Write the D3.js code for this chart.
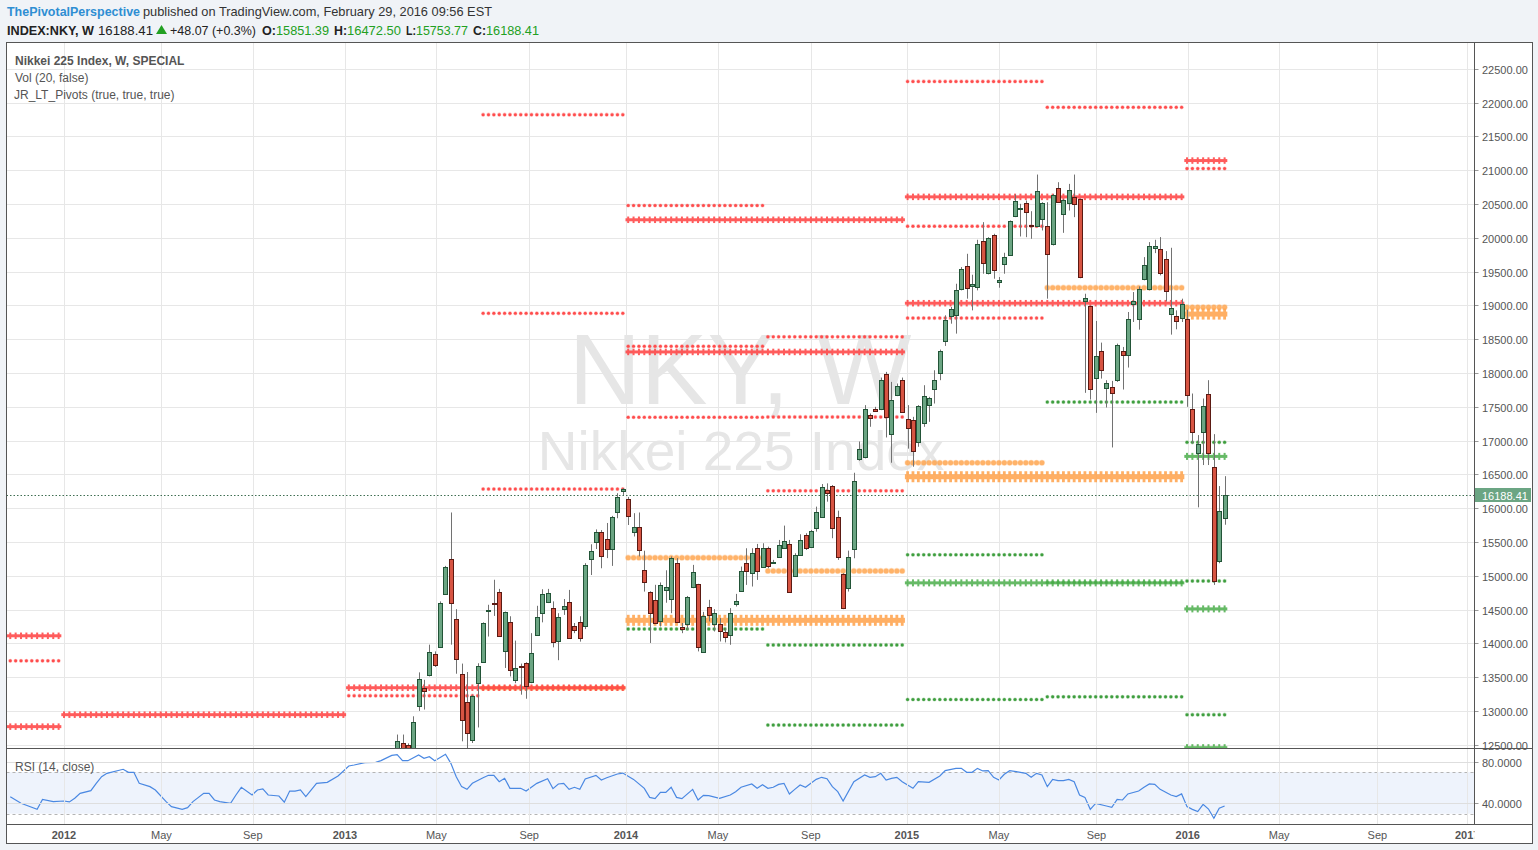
<!DOCTYPE html>
<html><head><meta charset="utf-8"><title>NKY weekly</title>
<script src="https://d3js.org/d3.v7.min.js"></script>
<style>html,body{margin:0;padding:0;background:#f0f3f7;overflow:hidden}svg{display:block}</style>
</head><body><svg id="chart" width="1538" height="850"></svg>
<script>
// ---------------- DATA ----------------
const priceTicks = [12500,13000,13500,14000,14500,15000,15500,16000,16500,17000,17500,18000,18500,19000,19500,20000,20500,21000,21500,22000,22500];
const rsiTicks = [40, 80];
const rsiBands = [30, 70];
const timeTickDates = ["2012-01-02","2012-05-08","2012-09-04","2013-01-02","2013-05-01","2013-08-30","2014-01-03","2014-05-03","2014-09-01","2015-01-04","2015-05-04","2015-09-08","2016-01-05","2016-05-03","2016-09-08","2017-01-03"];
const timeTickLabels = ["2012","May","Sep","2013","May","Sep","2014","May","Sep","2015","May","Sep","2016","May","Sep","2017"];

// weekly candles, first bar = week of 2013-03-11 (one value per week)
const firstCandleWeek = "2013-03-11";
const opens = [
12300,12530,12490,12380,13070,13340,13525,13840,13940,14735,
15245,14355,13545,13130,12565,13410,13730,14475,14590,14755,
13880,14315,13450,13660,13705,13425,14130,14445,14610,14520,
14040,14505,14610,14260,14315,14260,15245,15495,15640,15540,
15390,15935,16250,16130,15640,15715,15080,14765,14645,14330,
14790,14655,15185,14240,14283,14830,14874,13870,14534,14283,
14283,14165,14126,14579,14776,15184,15037,15406,15135,15416,
15190,15283,15416,15465,15002,15302,15603,15430,15701,15874,
16262,16326,15864,15022,14815,15391,16720,16750,17375,17473,
17459,17990,17089,17670,17902,17311,17302,16981,17266,17518,
17764,18005,18472,18842,18861,19236,19580,19285,19270,19954,
19482,20043,19339,19615,19747,20314,20427,20515,20191,20166,
20279,20176,19910,20737,20353,20510,20599,20575,19058,18994,
17931,18325,17783,17798,17901,18320,18271,19024,18803,19383,
19245,19850,19836,19689,18876,18837,18817,18803,17459,16809,
17129,17685,16602,15223,15851.39];
const highs = [
12650,12650,12520,12920,13570,13460,13980,13880,14620,15145,
15935,14505,13700,13575,13240,13705,14310,14570,14940,14805,
14470,14400,14040,13700,13720,14150,14555,14800,14805,14620,
14445,14655,14790,14300,14400,15185,15465,15685,15675,15780,
15885,16220,16295,16165,15925,15935,15370,14770,14865,14900,
15080,15285,15260,14300,14700,15160,14880,14465,14643,14505,
14372,14224,14520,14731,15135,15406,15406,15470,15480,15430,
15234,15529,15741,15529,15332,15613,15628,15677,16022,16356,
16366,16341,15962,15037,15371,16523,16985,17523,17400,17498,
17931,18015,17867,17843,17931,17523,17350,17523,17818,17646,
18039,18345,18852,18975,19319,19565,19762,19452,19969,20230,
20008,20058,19418,19777,20255,20639,20501,20550,20392,20934,
20525,20525,20648,20821,20575,20796,20934,20580,19171,18994,
18768,18448,17892,17882,18433,18384,18901,19196,19280,19713,
19935,19969,20009,19802,19851,18925,19098,18935,17695,17080,
17621,17892,17094,16326,16472.50];
const lows = [
12250,12290,12250,12000,13000,13020,13510,13650,13930,14715,
13980,13550,12550,12415,12525,12755,13715,14100,14405,14100,
13635,13510,13410,13240,13180,13410,14125,14310,14595,13940,
13750,14420,14075,14150,14025,14210,15010,15395,15110,15260,
15145,15850,16195,15750,15580,15285,14765,14005,14290,14250,
14600,14445,14300,14150,14200,14815,13880,13865,14323,14175,
14027,14013,13978,14544,14766,14864,14840,14938,15135,15110,
15184,15273,15406,14751,14987,15293,15381,15420,15652,15874,
16095,15554,15234,14505,14766,15258,16700,16735,17203,17424,
17449,17045,16671,17656,17410,16880,16612,16907,17202,17276,
17547,17892,18399,18728,18581,19221,19098,18925,19221,19467,
19457,19393,19260,19467,19738,20304,20018,20008,19984,20156,
20107,19098,19885,20515,20072,20402,20304,19400,17705,17606,
17409,17916,17488,16897,17867,17754,18079,18753,18640,19369,
19221,19772,19443,19058,18566,18645,18753,17498,16956,16011,
16637,16637,14864,15184,15753.77];
const closes = [
12560,12340,12400,12830,13470,13300,13870,13675,14595,15125,
14595,13765,12865,12675,13215,13660,14300,14495,14575,14115,
14460,13600,13635,13645,13375,13855,14385,14725,14740,14015,
14385,14555,14080,14190,14075,15155,15365,15640,15295,15390,
15865,16160,16280,15890,15715,15375,14905,14445,14300,14860,
14830,15260,14315,14210,14692,15051,13944,14406,14416,14446,
14175,14091,14446,14628,15071,15076,15332,15076,15416,15150,
15210,15450,15514,14766,15302,15524,15406,15662,15938,16307,
16218,15701,15283,14520,15273,16395,16868,17473,17340,17439,
17902,17350,17606,17803,17424,17178,16848,17508,17665,17636,
17902,18320,18788,18950,19231,19540,19260,19320,19900,19629,
19998,19516,19368,19713,20245,20540,20437,20378,20166,20688,
20515,19762,20634,20525,20560,20707,20500,19418,19112,17769,
18246,18049,17857,17709,18418,18271,18803,19068,19245,19590,
19870,19870,19477,19211,18965,18768,19014,17680,17129,16946,
17508,16809,14928,15957,16188.41];
const lastPrice = 16188.41;

// RSI(14): [week number from 2012-01-02, value]
const rsiPoints = [[-10,46.4],[-8,40.0],[-5,34.2],[-4,43.8],[-2,41.6],[0,42.2],[1,41.3],[2,44.8],[3,49.6],[5,52.2],[6,59.2],[7,65.6],[8,68.8],[11,72.7],[12,69.8],[13,69.8],[14,59.2],[16,56],[17,52.8],[19,41.6],[20,36.8],[22,34.2],[23,35.8],[24,41.6],[26,49.6],[27,49.6],[28,43.2],[29,41.6],[31,40.0],[32,48],[33,55.4],[35,48],[36,52.8],[37,53.8],[38,48],[40,47],[41,41],[42,51.8],[43,51.8],[44,52.8],[45,46.4],[47,59.2],[49,60.2],[51,66.3],[53,75.9],[54,76.8],[56,79.1],[58,79.4],[59,81],[61,86.1],[62,86.8],[63,81],[64,81],[66,86.4],[67,83.2],[68,84.8],[69,81],[71,87.1],[72,78.4],[73,65.6],[74,56],[75,53.4],[76,59.2],[78,64.6],[79,66.9],[80,66.9],[81,60.8],[82,64],[83,54.4],[85,54.4],[86,51.8],[88,59.2],[90,63.7],[91,54.1],[92,58.6],[93,59.2],[94,53.4],[95,55.4],[96,53.4],[97,63.4],[99,66.9],[100,62.4],[101,64.6],[103,68.2],[104,69.1],[106,63],[108,54.4],[109,45.7],[110,44.5],[111,50.5],[112,50.5],[113,55.4],[114,45.7],[115,44.5],[117,53.4],[118,43.2],[119,47.7],[120,47.3],[122,44.8],[124,48],[125,51.2],[126,55.4],[128,58.6],[129,54.4],[130,57.8],[131,54.4],[132,55.4],[133,58.2],[134,59.2],[135,49],[136,53.4],[137,57.6],[138,55.4],[139,59.2],[140,63],[141,65],[142,63.7],[143,56],[144,51.2],[145,42.2],[147,60.8],[149,67.2],[150,65],[151,65.6],[152,68.8],[153,62.4],[154,64],[155,65],[156,60.8],[158,54.4],[159,60.8],[161,60.2],[163,66.3],[164,71.4],[166,73.6],[167,73.6],[168,69.8],[169,69.8],[170,73.6],[171,71.1],[172,71.4],[173,65],[174,62.4],[175,67.9],[176,71.4],[178,69.8],[179,68.8],[180,65],[181,68.8],[182,67.2],[183,56],[184,63],[185,61.8],[186,61.8],[187,63],[188,60.8],[189,48],[190,45.7],[191,34.2],[192,40],[194,37.4],[195,36.1],[196,43.8],[197,43.2],[198,49],[200,51.8],[201,55.4],[202,58.6],[203,58.2],[204,53.4],[206,48],[207,46.4],[208,49],[209,36.8],[210,34.2],[211,32],[212,39],[213,34.5],[214,25.6],[215,35.2],[216,37.4]];

// JR_LT_Pivots levels: [period, level]
const yearlyResist = [["2011",14111],["2011",12767],["2012",12944],["2013",13343],["2014",20265],["2014",18310],["2015",20604],["2015",19031],["2016",21141]];
const yearlyPivot  = [["2014",14340],["2015",16464],["2016",18870]];
const yearlySupport= [["2015",14894],["2016",16765],["2016",14509],["2016",12456]];
const halfResist = [["2011H2",13741],["2013H1",13225],["2013H2",21820],["2013H2",18881],["2013H2",16282],["2014H1",20476],["2014H1",18394],["2014H1",17344],["2014H2",18534],["2014H2",17349],["2014H2",16255],["2015H1",22312],["2015H1",20171],["2015H1",18811],["2015H2",21928],["2016H1",21023]];
const halfPivot  = [["2013H2",13339],["2014H1",15266],["2014H2",15070],["2015H1",16670],["2015H2",19260],["2016H1",18973]];
const halfSupport= [["2014H1",14212],["2014H2",13976],["2014H2",12791],["2015H1",15310],["2015H1",13169],["2015H2",17568],["2015H2",14900],["2015H2",13208],["2016H1",16973],["2016H1",14922],["2016H1",12944]];

// ---------------- CHART ----------------
const FONT = "'Liberation Sans', Arial, sans-serif";
const svg = d3.select("#chart").attr("font-family", FONT);
const PL=6.5, PR=1474.5, PT=42.5, PB=748.5, RB=824.5, FB=843.5, FR=1532.5;

const parse = d3.utcParse("%Y-%m-%d");
const base = parse("2012-01-02");
const weekDate = w => d3.utcDay.offset(base, 7*w);
const x = d3.scaleUtc().domain([base, parse("2016-01-04")]).range([64, 1187]);
const y = d3.scaleLinear().domain([12500, 22500]).range([744.7, 68.7]);
const yR = d3.scaleLinear().domain([40, 80]).range([803.3, 761.7]);

const defs = svg.append("defs");
function clip(id, x0, y0, w, h){ defs.append("clipPath").attr("id", id).append("rect").attr("x",x0).attr("y",y0).attr("width",w).attr("height",h); }
clip("cp", PL, PT, PR-PL, PB-PT);
clip("cr", PL, PB, PR-PL, RB-PB);
clip("ct", PL, RB, PR-PL, FB-RB);

svg.append("rect").attr("x",PL).attr("y",PT).attr("width",FR-PL).attr("height",FB-PT).attr("fill","#fff");

// RSI band
const gR = svg.append("g").attr("clip-path","url(#cr)");
gR.append("rect").attr("x",PL).attr("width",PR-PL).attr("y",yR(rsiBands[1])).attr("height",yR(rsiBands[0])-yR(rsiBands[1])).attr("fill","#eef3fc");

// grid
const gGrid = svg.append("g").attr("stroke","#e7e7e7").attr("stroke-width",1);
priceTicks.forEach(v=>{ const yy=Math.round(y(v))+0.5; gGrid.append("line").attr("x1",PL).attr("x2",PR).attr("y1",yy).attr("y2",yy); });
timeTickDates.forEach(d=>{ const xx=Math.round(x(parse(d)))+0.5; if(xx<PR) gGrid.append("line").attr("x1",xx).attr("x2",xx).attr("y1",PT).attr("y2",RB); });
rsiTicks.forEach(v=>{ const yy=Math.round(yR(v))+0.5; gGrid.append("line").attr("x1",PL).attr("x2",PR).attr("y1",yy).attr("y2",yy).attr("stroke","#dedede"); });
rsiBands.forEach(v=>{ const yy=Math.round(yR(v))+0.5; gR.append("line").attr("x1",PL).attr("x2",PR).attr("y1",yy).attr("y2",yy).attr("stroke","#b4b4b4").attr("stroke-dasharray","3,3"); });

// price pane
const gP = svg.append("g").attr("clip-path","url(#cp)");
// watermark
gP.append("text").attr("x",740).attr("y",404).attr("text-anchor","middle").attr("font-size",100).attr("fill","#e6e6e6").text("NKY, W");
gP.append("text").attr("x",741).attr("y",470).attr("text-anchor","middle").attr("font-size",55).attr("fill","#e6e6e6").text("Nikkei 225 Index");

// pivots
const bars = d3.utcMonday.range(weekDate(-12), d3.utcDay.offset(weekDate(216),1));
function periodBars(p){
  const yr = +p.slice(0,4);
  let s, e;
  if (p.length===4){ s=Date.UTC(yr,0,1); e=Date.UTC(yr+1,0,1); }
  else if (p.endsWith("H1")){ s=Date.UTC(yr,0,1); e=Date.UTC(yr,6,1); }
  else { s=Date.UTC(yr,6,1); e=Date.UTC(yr+1,0,1); }
  return bars.filter(d=>+d>=s && +d<e);
}
const gPiv = gP.append("g");
function thick(list, color, o){
  list.forEach(([p,v])=>{
    const ds = periodBars(p); if(!ds.length) return;
    const yy = y(v);
    const g = gPiv.append("g").attr("fill",color).attr("opacity",o.op);
    const x0 = x(ds[0])-2.7, x1 = x(ds[ds.length-1])+2.7;
    g.append("rect").attr("x",x0).attr("y",yy-o.hh/2).attr("width",x1-x0).attr("height",o.hh);
    g.selectAll(null).data(ds).join("rect").attr("x",d=>x(d)-o.vw/2).attr("y",yy-o.vh/2).attr("width",o.vw).attr("height",o.vh);
  });
}
function dots(list, color, r, op){
  list.forEach(([p,v])=>{
    const ds = periodBars(p); if(!ds.length) return;
    const yy = y(v);
    gPiv.append("g").attr("opacity",op).selectAll(null).data(ds).join("circle")
      .attr("cx",d=>x(d)).attr("cy",yy).attr("r",r).attr("fill",color)
      .attr("stroke",color).attr("stroke-opacity",0.35).attr("stroke-width",1.2);
  });
}
// half-year dots first, yearly crosses drawn translucently over them
dots(halfResist, "#ff4d4d", 1.5, 1);
dots(halfSupport, "#3f9f3f", 1.5, 1);
dots(halfPivot, "#ffa650", 2.5, 0.85);
thick(yearlyResist, "#ff4444", {hh:3, vw:2, vh:6.5, op:0.87});
thick(yearlySupport, "#4cae4c", {hh:3, vw:2, vh:7, op:0.85});
thick(yearlyPivot, "#ffa24a", {hh:5, vw:2.8, vh:11, op:0.85});

// last price line
const yl = Math.round(y(lastPrice))+0.5;
gP.append("line").attr("x1",PL).attr("x2",PR).attr("y1",yl).attr("y2",yl).attr("stroke","#3f6e52").attr("stroke-dasharray","1.5,2");

// candles
const gC = gP.append("g");
const cFirst = parse(firstCandleWeek);
opens.forEach((o,i)=>{
  const d = d3.utcDay.offset(cFirst, 7*i);
  const cx = Math.round(x(d));
  const h = highs[i], l = lows[i], c = closes[i];
  const up = c >= o;
  gC.append("line").attr("x1",cx+0.5).attr("x2",cx+0.5).attr("y1",y(h)).attr("y2",y(l)).attr("stroke","#727272").attr("stroke-width",1);
  const t = Math.round(y(Math.max(o,c))), b = Math.round(y(Math.min(o,c)));
  gC.append("rect").attr("x",cx-1.5).attr("y",t+0.5).attr("width",4).attr("height",Math.max(1,b-t))
    .attr("fill", up ? "#6ba583" : "#d75442").attr("stroke", up ? "#225437" : "#5b1a13").attr("stroke-width",1);
});

// RSI line
const rsiLine = d3.line().x(d=>x(weekDate(d[0]))).y(d=>yR(d[1]));
gR.append("path").attr("d",rsiLine(rsiPoints)).attr("fill","none").attr("stroke","#4a88e2").attr("stroke-width",1.2);

// legend texts
svg.append("text").attr("x",15).attr("y",65).attr("font-size",12).attr("font-weight","bold").attr("fill","#555").text("Nikkei 225 Index, W, SPECIAL");
svg.append("text").attr("x",15).attr("y",82).attr("font-size",12).attr("fill","#555").text("Vol (20, false)");
svg.append("text").attr("x",14).attr("y",99).attr("font-size",12).attr("fill","#555").text("JR_LT_Pivots (true, true, true)");
svg.append("text").attr("x",15).attr("y",771).attr("font-size",12).attr("fill","#555").text("RSI (14, close)");

// right axis labels
const gA = svg.append("g").attr("font-size",11).attr("fill","#555");
priceTicks.forEach(v=>{
  const yy=Math.round(y(v))+0.5;
  svg.append("line").attr("x1",PR).attr("x2",PR+4).attr("y1",yy).attr("y2",yy).attr("stroke","#999");
  gA.append("text").attr("x",1482).attr("y",yy+4).text(v.toFixed(2));
});
rsiTicks.forEach(v=>{
  const yy=Math.round(yR(v))+0.5;
  svg.append("line").attr("x1",PR).attr("x2",PR+4).attr("y1",yy).attr("y2",yy).attr("stroke","#999");
  gA.append("text").attr("x",1482).attr("y",yy+4).text(v.toFixed(4));
});
// last price tag
svg.append("rect").attr("x",1475).attr("y",yl-7.5).attr("width",56).attr("height",14).attr("fill","#6ba583");
svg.append("text").attr("x",1482).attr("y",yl+4).attr("font-size",11).attr("fill","#fff").text(lastPrice.toFixed(2));

// time axis labels
const gT = svg.append("g").attr("clip-path","url(#ct)").attr("font-size",11).attr("fill","#555").attr("text-anchor","middle");
timeTickDates.forEach((d,i)=>{
  const lab = timeTickLabels[i];
  gT.append("text").attr("x",x(parse(d))).attr("y",839).attr("font-weight", /^\d{4}$/.test(lab) ? "bold":"normal").text(lab);
});

// borders
const gB = svg.append("g").attr("stroke","#555").attr("fill","none");
gB.append("rect").attr("x",PL).attr("y",PT).attr("width",FR-PL).attr("height",FB-PT);
gB.append("line").attr("x1",PR).attr("x2",PR).attr("y1",PT).attr("y2",RB);
gB.append("line").attr("x1",PL).attr("x2",FR).attr("y1",PB).attr("y2",PB);
gB.append("line").attr("x1",PL).attr("x2",FR).attr("y1",RB).attr("y2",RB);

// header
svg.append("text").attr("x",7).attr("y",15.5).attr("font-size",12.8).attr("font-weight","bold").attr("fill","#2e8ed3").attr("textLength",133).attr("lengthAdjust","spacingAndGlyphs").text("ThePivotalPerspective");
svg.append("text").attr("x",143).attr("y",15.5).attr("font-size",12.8).attr("fill","#333").attr("textLength",349).attr("lengthAdjust","spacingAndGlyphs").text("published on TradingView.com, February 29, 2016 09:56 EST");
const hdr = [
  {x:7, t:"INDEX:NKY, W", b:true, c:"#222", w:87},
  {x:98, t:"16188.41", b:false, c:"#222", w:55},
  {x:170, t:"+48.07 (+0.3%)", b:false, c:"#222", w:86},
  {x:262, t:"O:", b:true, c:"#222", w:14},
  {x:276, t:"15851.39", b:false, c:"#22a022", w:53},
  {x:334, t:"H:", b:true, c:"#222", w:13},
  {x:347, t:"16472.50", b:false, c:"#22a022", w:54},
  {x:406, t:"L:", b:true, c:"#222", w:10},
  {x:416, t:"15753.77", b:false, c:"#22a022", w:52},
  {x:473, t:"C:", b:true, c:"#222", w:13},
  {x:486, t:"16188.41", b:false, c:"#22a022", w:53}
];
hdr.forEach(h=>svg.append("text").attr("x",h.x).attr("y",34.5).attr("font-size",13).attr("font-weight",h.b?"bold":"normal").attr("fill",h.c).attr("textLength",h.w).attr("lengthAdjust","spacingAndGlyphs").text(h.t));
svg.append("polygon").attr("points","156,34 167,34 161.5,25").attr("fill","#22a022");
</script></body></html>
